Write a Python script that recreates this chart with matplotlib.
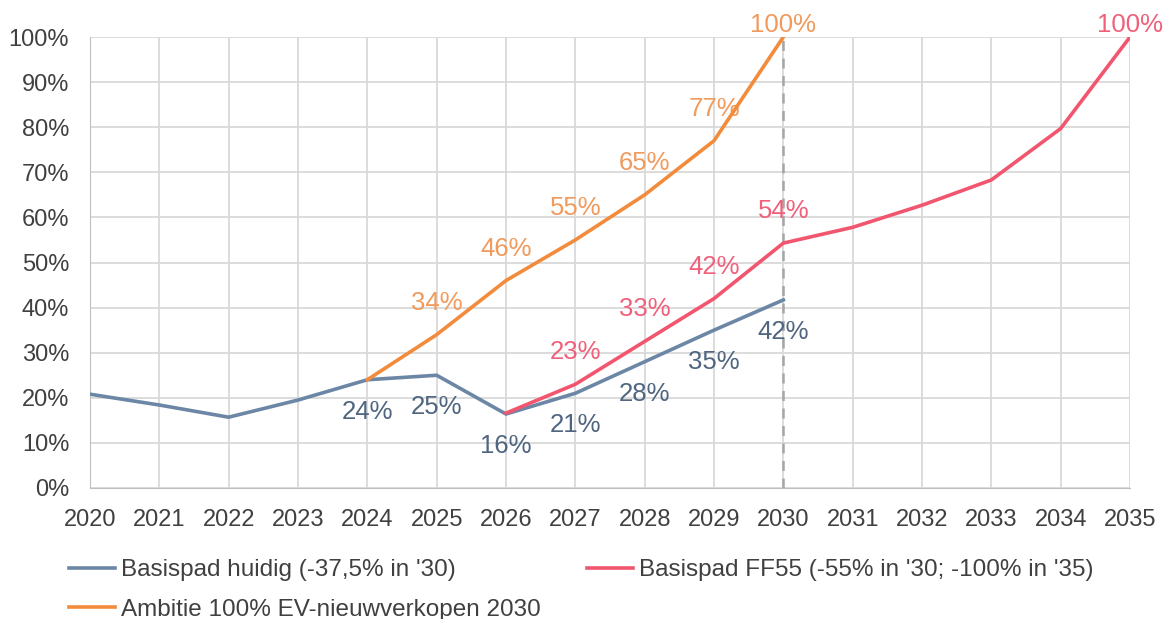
import matplotlib
matplotlib.use("Agg")
import matplotlib.pyplot as plt
from matplotlib.ticker import FuncFormatter

plt.rcParams['font.family'] = ['Liberation Sans', 'DejaVu Sans']

years = list(range(2020, 2036))

blue_years = list(range(2020, 2031))
blue_vals = [20.8, 18.4, 15.7, 19.5, 24, 25, 16.4, 21, 28, 35, 41.7]
blue_labels = {2024: "24%", 2025: "25%", 2026: "16%", 2027: "21%",
               2028: "28%", 2029: "35%", 2030: "42%"}

red_years = list(range(2026, 2036))
red_vals = [16.6, 23, 32.5, 42, 54.3, 57.8, 62.7, 68.3, 79.7, 100]
red_labels = {2027: "23%", 2028: "33%", 2029: "42%", 2030: "54%", 2035: "100%"}

orange_years = list(range(2024, 2031))
orange_vals = [24, 34, 46, 55, 65, 77, 100]
orange_labels = {2025: "34%", 2026: "46%", 2027: "55%", 2028: "65%",
                 2029: "77%", 2030: "100%"}

names = ["Basispad huidig (-37,5% in '30)",
         "Basispad FF55 (-55% in '30; -100% in '35)",
         "Ambitie 100% EV-nieuwverkopen 2030"]

c_blue = "#6c87a6"
c_red = "#f2566f"
c_orange = "#f28c3c"
t_blue = "#4f6580"
t_red = "#f0607a"
t_orange = "#f09a5c"

fig = plt.figure(figsize=(11.64, 6.19), dpi=100)
ax = fig.add_axes([90/1164, 1-488/619, 1040/1164, 451/619])

ax.set_xlim(2020, 2035)
ax.set_ylim(0, 100)
ax.set_xticks(years)
ax.set_yticks(range(0, 101, 10))
ax.yaxis.set_major_formatter(FuncFormatter(lambda v, p: f"{int(v)}%"))
ax.grid(True, color="#d9d9d9", linewidth=1.3)
ax.set_axisbelow(True)
for s in ax.spines.values():
    s.set_visible(False)
ax.spines['left'].set_visible(True)
ax.spines['left'].set_color("#bfbfbf")
ax.spines['bottom'].set_visible(True)
ax.spines['bottom'].set_color("#bfbfbf")
ax.tick_params(length=0, labelsize=17, colors="#404040")
ax.tick_params(axis='x', pad=15)
ax.tick_params(axis='y', pad=15)

ax.axvline(2030, color="#a6a6a6", linestyle=(0, (4, 3)), linewidth=1.8, zorder=1)

lb, = ax.plot(blue_years, blue_vals, color=c_blue, linewidth=2.6, zorder=3)
lo, = ax.plot(orange_years, orange_vals, color=c_orange, linewidth=2.6, zorder=4)
lr, = ax.plot(red_years, red_vals, color=c_red, linewidth=2.6, zorder=4)

for x, v in zip(blue_years, blue_vals):
    if x in blue_labels:
        ax.annotate(blue_labels[x], (x, v), xytext=(0, -23), textcoords='offset points',
                    ha='center', va='center', fontsize=18.5, color=t_blue)
for x, v in zip(red_years, red_vals):
    if x in red_labels:
        off = 9 if v >= 100 else 23
        ax.annotate(red_labels[x], (x, v), xytext=(0, off), textcoords='offset points',
                    ha='center', va='center', fontsize=18.5, color=t_red,
                    annotation_clip=False)
for x, v in zip(orange_years, orange_vals):
    if x in orange_labels:
        off = 9 if v >= 100 else 23
        ax.annotate(orange_labels[x], (x, v), xytext=(0, off), textcoords='offset points',
                    ha='center', va='center', fontsize=18.5, color=t_orange,
                    annotation_clip=False)

for t in ax.texts:
    t.set_clip_on(False)

leg = fig.legend([lb, lo, lr], [names[0], names[2], names[1]], ncol=2,
                 loc='upper left', bbox_to_anchor=(52/1164, 1-542/619),
                 frameon=False, fontsize=17.5, handlelength=1.9, handletextpad=0.25,
                 columnspacing=1.9, labelspacing=0.72, labelcolor="#404040",
                 borderpad=0.2)

fig.savefig("out.png", dpi=100)
